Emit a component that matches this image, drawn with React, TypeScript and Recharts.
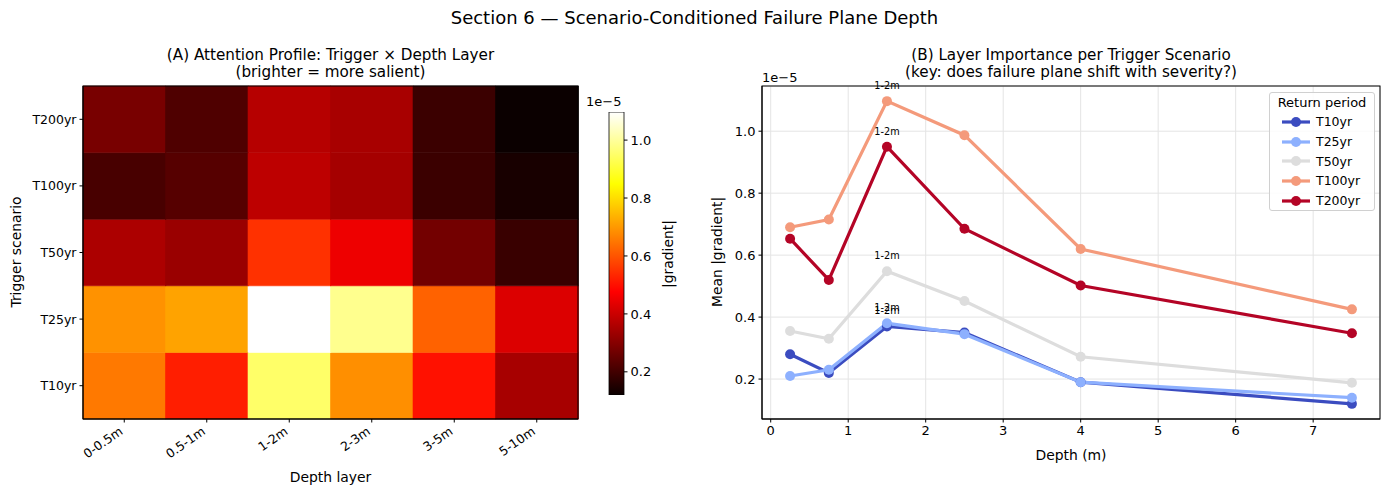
import React from 'react';
import { BarChart, Bar, Cell, XAxis, YAxis, LineChart, Line, CartesianGrid } from 'recharts';

// ---------- data (values in units of 1e-5) ----------
const scenarios = ['T10yr', 'T25yr', 'T50yr', 'T100yr', 'T200yr'];
const depthLayers = ['0-0.5m', '0.5-1m', '1-2m', '2-3m', '3-5m', '5-10m'];
const depthMid = [0.25, 0.75, 1.5, 2.5, 4, 7.5];
const t10 = [0.28, 0.22, 0.37, 0.35, 0.19, 0.12];
const t25 = [0.21, 0.23, 0.38, 0.345, 0.19, 0.14];
const t50 = [0.355, 0.33, 0.548, 0.452, 0.272, 0.188];
const t100 = [0.69, 0.715, 1.097, 0.987, 0.62, 0.425];
const t200 = [0.653, 0.52, 0.95, 0.685, 0.502, 0.348];
const seriesColors = ['#3b4cc0', '#8db0fe', '#dddddd', '#f49a7b', '#b40426'];
// heatmap rows as drawn, bottom -> top
const heatRowLabels = ['T10yr', 'T25yr', 'T50yr', 'T100yr', 'T200yr'];
const heatRows = [t200, t100, t50, t25, t10];
const cbTicks = [0.2, 0.4, 0.6, 0.8, 1.0];
const depthTicks = [0, 1, 2, 3, 4, 5, 6, 7];
const meanTicks = [0.2, 0.4, 0.6, 0.8, 1.0];

const allSeries = [t10, t25, t50, t100, t200];
const allVals = allSeries.flat();
const vmin = Math.min(...allVals);
const vmax = Math.max(...allVals);

const clamp = (v: number) => Math.max(0, Math.min(1, v));
function hot(v: number) {
  const t = clamp((v - vmin) / (vmax - vmin));
  const r = t < 0.365079 ? 0.0416 + (1 - 0.0416) * t / 0.365079 : 1;
  const g = clamp((t - 0.365079) / (0.746032 - 0.365079));
  const b = clamp((t - 0.746032) / (1 - 0.746032));
  return `rgb(${Math.round(r * 255)},${Math.round(g * 255)},${Math.round(b * 255)})`;
}

const heatData = depthLayers.map((layer) => {
  const o: any = { layer };
  heatRows.forEach((_, r) => (o['r' + r] = 1));
  return o;
});
const cbData = [{ name: 'cb', range: [vmin, vmax] }];
const lineData = depthMid.map((d, i) => {
  const o: any = { depth: d };
  scenarios.forEach((s, k) => (o[s] = allSeries[k][i]));
  return o;
});

const xPad = (Math.max(...depthMid) - Math.min(...depthMid)) * 0.05;
const yPad = (vmax - vmin) * 0.05;

const FONT = 'DejaVu Sans, sans-serif';
const tickStyle = { fill: '#000', fontSize: 13 };

const RotTick = (props: any) => {
  const { x, y, payload } = props;
  const ax = x - 6;
  const ay = y + 1;
  return (
    <text x={ax} y={ay} transform={`rotate(-35 ${ax} ${ay})`} textAnchor="end" dy="0.75em" fontSize={12.5} fill="#000">
      {payload.value}
    </text>
  );
};

export default function App() {
  return (
    <div style={{ position: 'absolute', left: 0, top: 0, width: 1389, height: 495, background: '#fff', fontFamily: FONT }}>
      <svg width={0} height={0} style={{ position: 'absolute' }}>
        <defs>
          <linearGradient id="hotGrad" x1="0" y1="0" x2="0" y2="1">
            <stop offset="0" stopColor="rgb(255,255,255)" />
            <stop offset={1 - 0.746032} stopColor="rgb(255,255,0)" />
            <stop offset={1 - 0.365079} stopColor="rgb(255,0,0)" />
            <stop offset="1" stopColor="rgb(11,0,0)" />
          </linearGradient>
        </defs>
      </svg>

      {/* Heatmap */}
      <div style={{ position: 'absolute', left: 0, top: 0 }}>
        <BarChart width={700} height={495} data={heatData} barCategoryGap={0} barGap={0}
          margin={{ top: 86, right: 122, bottom: 26, left: 23 }}>
          <XAxis dataKey="layer" height={50} tick={<RotTick />} tickSize={3.5} interval={0}
            axisLine={{ stroke: '#000', strokeWidth: 1 }} tickLine={{ stroke: '#000' }} />
          <YAxis type="number" domain={[0, heatRows.length]} ticks={[0.5, 1.5, 2.5, 3.5, 4.5]} interval={0}
            tickFormatter={(v: number) => heatRowLabels[Math.floor(v)]} width={60} tickSize={3.5} tickMargin={3}
            tick={{ fill: '#000', fontSize: 12.5 }} axisLine={{ stroke: '#000', strokeWidth: 1 }} tickLine={{ stroke: '#000' }} />
          {heatRows.map((row, r) => (
            <Bar key={r} dataKey={'r' + r} stackId="a" isAnimationActive={false}>
              {row.map((v, c) => (
                <Cell key={c} fill={hot(v)} stroke={hot(v)} strokeWidth={0.6} />
              ))}
            </Bar>
          ))}
        </BarChart>
      </div>

      {/* Colorbar */}
      <div style={{ position: 'absolute', left: 590, top: 0 }}>
        <BarChart width={80} height={495} data={cbData} barCategoryGap={0}
          margin={{ top: 112, right: 6, bottom: 100, left: 19 }}>
          <XAxis dataKey="name" hide />
          <YAxis type="number" orientation="right" domain={[vmin, vmax]} allowDataOverflow ticks={cbTicks}
            tickFormatter={(v: number) => v.toFixed(1)} width={40} tickSize={3.5} tickMargin={3}
            tick={tickStyle} axisLine={false} tickLine={{ stroke: '#000' }} />
          <Bar dataKey="range" fill="url(#hotGrad)" stroke="#000" strokeWidth={0.8} isAnimationActive={false} />
        </BarChart>
      </div>

      {/* Line chart */}
      <div style={{ position: 'absolute', left: 700, top: 0 }}>
        <LineChart width={689} height={495} data={lineData}
          margin={{ top: 86, right: 9, bottom: 46, left: 12 }}>
          <CartesianGrid stroke="#e4e4e4" strokeWidth={1} />
          <XAxis dataKey="depth" type="number" domain={[Math.min(...depthMid) - xPad, Math.max(...depthMid) + xPad]}
            allowDataOverflow ticks={depthTicks} interval={0} height={30} tickSize={3.5} tickMargin={3}
            tick={tickStyle} axisLine={{ stroke: '#000' }} tickLine={{ stroke: '#000' }} />
          <YAxis type="number" domain={[vmin - yPad, vmax + yPad]} allowDataOverflow ticks={meanTicks} interval={0}
            tickFormatter={(v: number) => v.toFixed(1)} width={50} tickSize={3.5} tickMargin={3}
            tick={tickStyle} axisLine={{ stroke: '#000' }} tickLine={{ stroke: '#000' }} />
          {scenarios.map((s, k) => {
            const vals = allSeries[k];
            const peak = vals.indexOf(Math.max(...vals));
            const col = seriesColors[k];
            return (
              <Line key={s} type="linear" dataKey={s} stroke={col} strokeWidth={3.2}
                dot={{ r: 5, fill: col, stroke: col, strokeWidth: 0 }} activeDot={false}
                isAnimationActive={false}
                label={(p: any) =>
                  p.index === peak ? (
                    <text key={`lab-${s}`} x={p.x} y={p.y - 12} textAnchor="middle" fontSize={9.7} fill="#000">
                      {depthLayers[peak]}
                    </text>
                  ) : (
                    <g key={`lab-${s}-${p.index}`} />
                  )
                } />
            );
          })}
        </LineChart>
      </div>

      {/* Legend */}
      <div style={{ position: 'absolute', left: 1269, top: 92, width: 106, height: 119, border: '1px solid #d0d0d0', borderRadius: 3, background: 'rgba(255,255,255,0.85)', boxSizing: 'border-box' }}>
        <div style={{ fontSize: 13, textAlign: 'center', marginTop: 1, lineHeight: '18px', color: '#000' }}>Return period</div>
        {scenarios.map((s, k) => (
          <div key={s} style={{ display: 'flex', alignItems: 'center', height: 19.7, paddingLeft: 11 }}>
            <svg width={30} height={12}>
              <line x1={1} y1={6} x2={29} y2={6} stroke={seriesColors[k]} strokeWidth={3.2} />
              <circle cx={15} cy={6} r={5} fill={seriesColors[k]} />
            </svg>
            <span style={{ fontSize: 12.5, marginLeft: 5, color: '#000' }}>{s}</span>
          </div>
        ))}
      </div>

      {/* Titles, frames & axis labels */}
      <svg width={1389} height={495} style={{ position: 'absolute', left: 0, top: 0, pointerEvents: 'none' }} fontFamily={FONT}>
        <rect x={83} y={86} width={495} height={333} fill="none" stroke="#000" strokeWidth={1} />
        <rect x={762} y={86} width={618} height={333} fill="none" stroke="#000" strokeWidth={1} />
        <text x={694.5} y={24} textAnchor="middle" fontSize={18} fill="#000">Section 6 — Scenario-Conditioned Failure Plane Depth</text>
        <text x={330.5} y={60} textAnchor="middle" fontSize={15.2} fill="#000">(A) Attention Profile: Trigger × Depth Layer</text>
        <text x={330.5} y={77} textAnchor="middle" fontSize={15.2} fill="#000">(brighter = more salient)</text>
        <text x={1071} y={60} textAnchor="middle" fontSize={15.2} fill="#000">(B) Layer Importance per Trigger Scenario</text>
        <text x={1071} y={77} textAnchor="middle" fontSize={15.2} fill="#000">(key: does failure plane shift with severity?)</text>
        <text x={330.5} y={482} textAnchor="middle" fontSize={13.9} fill="#000">Depth layer</text>
        <text x={21} y={252} textAnchor="middle" fontSize={13.9} fill="#000" transform="rotate(-90 21 252)">Trigger scenario</text>
        <text x={1071} y={460} textAnchor="middle" fontSize={13.9} fill="#000">Depth (m)</text>
        <text x={722} y={252} textAnchor="middle" fontSize={13.9} fill="#000" transform="rotate(-90 722 252)">Mean |gradient|</text>
        <text x={673} y={254} textAnchor="middle" fontSize={13.9} fill="#000" transform="rotate(-90 673 254)">|gradient|</text>
        <text x={586} y={106} fontSize={13} fill="#000">1e−5</text>
        <text x={762} y={82} fontSize={13} fill="#000">1e−5</text>
      </svg>
    </div>
  );
}
